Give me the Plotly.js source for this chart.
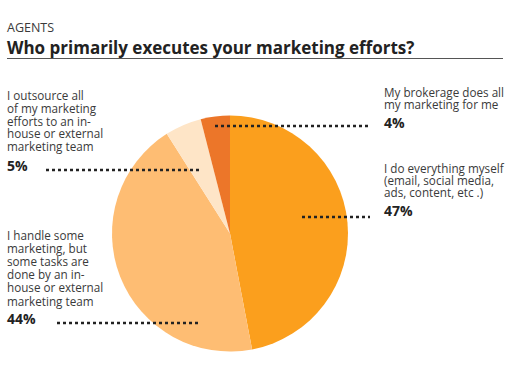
<!DOCTYPE html>
<html><head><meta charset="utf-8">
<script src="https://cdn.plot.ly/plotly-3.0.1.min.js"></script>
<style>html,body{margin:0;padding:0;background:#fff}#c{width:510px;height:382px}</style>
</head><body><div id="c"></div>
<script>
const categories = [
  "I do everything myself (email, social media, ads, content, etc .)",
  "I handle some marketing, but some tasks are done by an in-house or external marketing team",
  "I outsource all of my marketing efforts to an in-house or external marketing team",
  "My brokerage does all my marketing for me"
];
const values = [47, 44, 5, 4];
const valueLabels = ["47%", "44%", "5%", "4%"];
const colors = ["#FB9F1D", "#FEBD73", "#FEE5C7", "#EC7629"];
const labelLines = [
  ["I do everything myself", "(email, social media,", "ads, content, etc .)"],
  ["I handle some", "marketing, but", "some tasks are", "done by an in-", "house or external", "marketing team"],
  ["I outsource all", "of my marketing", "efforts to an in-", "house or external", "marketing team"],
  ["My brokerage does all", "my marketing for me"]
];

const W = 510, H = 382;
const px = x => x / W, py = y => 1 - y / H;
// label layout: [x, first line y, line step, pct y, dot line y, dot x0, dot x1]
const labelPos = [
  [383, 168, 12.2, 210, 217, 302, 370],
  [6, 235, 13.1, 318, 323, 57, 200],
  [6, 95, 12.8, 165, 170, 46, 200],
  [383, 92, 11.8, 122, 126, 215, 370]
];
const font = "Open Sans, sans-serif";
const annotations = [
  {text: "AGENTS", x: px(6), y: py(28), xref: "paper", yref: "paper", xanchor: "left", yanchor: "middle", showarrow: false, borderpad: 0, font: {family: font, size: 12.5, color: "#3a3a3a"}},
  {text: "<b>Who primarily executes your marketing efforts?</b>", x: px(6), y: py(47), xref: "paper", yref: "paper", xanchor: "left", yanchor: "middle", showarrow: false, borderpad: 0, font: {family: font, size: 17, color: "#222"}}
];
const shapes = [
  {type: "line", xref: "paper", yref: "paper", x0: px(7), x1: px(503), y0: py(58.5), y1: py(58.5), line: {color: "#555", width: 1}}
];
labelLines.forEach((lines, i) => {
  const [x, y0, step, pY, dY, dx0, dx1] = labelPos[i];
  lines.forEach((t, j) => annotations.push({text: t, x: px(x), y: py(y0 + j * step), xref: "paper", yref: "paper", xanchor: "left", yanchor: "middle", showarrow: false, borderpad: 0, font: {family: font, size: 11.7, color: "#3a3a3a"}}));
  annotations.push({text: "<b>" + valueLabels[i] + "</b>", x: px(x), y: py(pY), xref: "paper", yref: "paper", xanchor: "left", yanchor: "middle", showarrow: false, borderpad: 0, font: {family: font, size: 14, color: "#222"}});
  shapes.push({type: "line", xref: "paper", yref: "paper", x0: px(dx0), x1: px(dx1), y0: py(dY), y1: py(dY), line: {color: "#222", width: 2.5, dash: "dot"}});
});

const data = [{
  type: "pie", labels: categories, values: values, sort: false, direction: "clockwise", rotation: 0,
  marker: {colors: colors, line: {width: 0}}, textinfo: "none", hoverinfo: "none",
  domain: {x: [px(112), px(348)], y: [py(352), py(115)]}
}];
const layout = {
  width: W, height: H, margin: {l: 0, r: 0, t: 0, b: 0}, showlegend: false,
  paper_bgcolor: "#fff", annotations: annotations, shapes: shapes
};
Plotly.newPlot("c", data, layout, {staticPlot: true});
</script></body></html>
